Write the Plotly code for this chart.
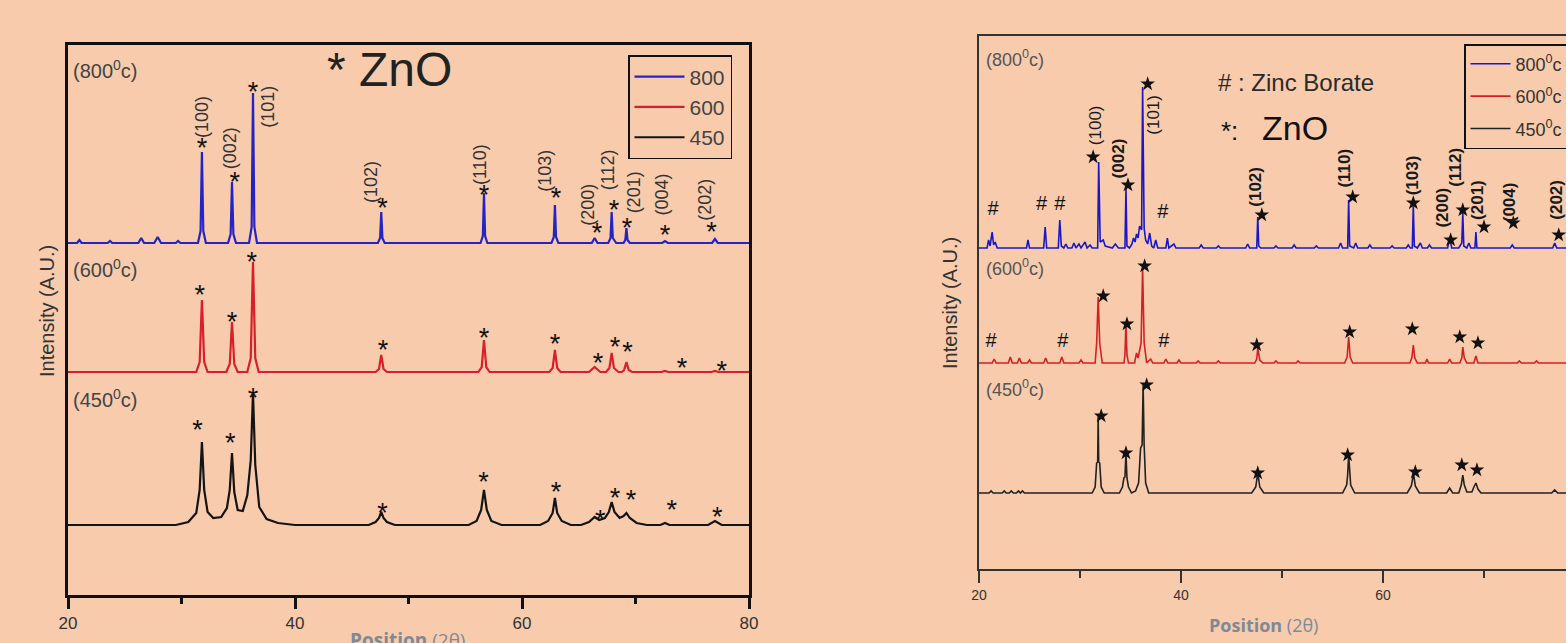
import plotly.graph_objects as go

# ---------------- DATA ----------------
# x axis: 2-theta (degrees); y: intensity (A.U., above each pattern's baseline)
tick_vals = [20, 40, 60, 80]
minor_vals = [30, 50, 70]
series_names_left = ["800", "600", "450"]
series_names_right = ["800<sup>0</sup>c", "600<sup>0</sup>c", "450<sup>0</sup>c"]
temp_labels = ["(800<sup>0</sup>c)", "(600<sup>0</sup>c)", "(450<sup>0</sup>c)"]
hkl = ["(100)", "(002)", "(101)", "(102)", "(110)", "(103)", "(200)", "(112)", "(201)", "(004)", "(202)"]

# stacking offsets of the three patterns
left_offsets = [352, 223, 70]
right_offsets = [321, 206, 76]

# ---- left panel patterns (2theta, intensity) ----
L800 = [(20, 0), (20.8, 0), (21.0, 3), (21.2, 0), (23.5, 0), (23.7, 2), (23.9, 0), (26.2, 0), (26.45, 5), (26.7, 0),
        (27.6, 0), (27.9, 6), (28.2, 0), (29.5, 0), (29.7, 2), (29.9, 0), (31.45, 0), (31.68, 12), (31.8, 91),
        (31.92, 12), (32.15, 0), (34.1, 0), (34.33, 9), (34.45, 61), (34.57, 9), (34.8, 0), (35.95, 0), (36.18, 16),
        (36.3, 150), (36.42, 16), (36.65, 0), (47.3, 0), (47.5, 5), (47.6, 31), (47.7, 5), (47.9, 0), (56.35, 0),
        (56.55, 7), (56.65, 50), (56.75, 7), (56.95, 0), (62.6, 0), (62.8, 6), (62.9, 38), (63.0, 6), (63.2, 0),
        (66.15, 0), (66.4, 5), (66.65, 0), (67.6, 0), (67.8, 5), (67.9, 31), (68.0, 5), (68.3, 0), (68.95, 0),
        (69.1, 3), (69.2, 15), (69.3, 3), (69.5, 0), (72.35, 0), (72.6, 2), (72.85, 0), (76.75, 0), (77.0, 4),
        (77.25, 0), (80, 0)]
L600 = [(20, 0), (31.3, 0), (31.6, 10), (31.8, 72), (32.0, 10), (32.3, 0), (33.95, 0), (34.25, 8), (34.45, 50),
        (34.65, 8), (34.95, 0), (35.8, 0), (36.1, 14), (36.3, 110), (36.5, 14), (36.8, 0), (47.1, 0), (47.4, 3),
        (47.6, 17), (47.8, 3), (48.1, 0), (56.15, 0), (56.45, 5), (56.65, 32), (56.85, 5), (57.15, 0), (62.4, 0),
        (62.7, 4), (62.9, 22), (63.1, 4), (63.4, 0), (65.9, 0), (66.4, 5), (66.9, 0), (67.4, 0), (67.7, 4), (67.9, 19),
        (68.1, 4), (68.5, 0), (68.8, 0), (69.0, 2), (69.2, 10), (69.4, 2), (69.7, 0), (72.3, 0), (72.6, 1), (72.9, 0),
        (76.7, 0), (77.0, 1), (77.3, 0), (80, 0)]
L450 = [(20, 0), (29.5, 0), (30.6, 3), (31.3, 12), (31.6, 35), (31.8, 83), (32.0, 35), (32.3, 13), (32.8, 7),
        (33.5, 8), (34.0, 17), (34.25, 35), (34.45, 72), (34.65, 33), (34.95, 15), (35.4, 14), (35.8, 30), (36.1, 65),
        (36.3, 132), (36.5, 60), (36.85, 18), (37.5, 6), (38.5, 2), (40, 0), (46.5, 0), (47.1, 3), (47.4, 7),
        (47.6, 13), (47.8, 7), (48.1, 3), (48.8, 0), (55.3, 0), (56.0, 4), (56.4, 15), (56.65, 35), (56.9, 15),
        (57.3, 4), (58.2, 0), (61.6, 0), (62.3, 4), (62.7, 12), (62.9, 27), (63.1, 12), (63.5, 4), (64.3, 0),
        (65.2, 0), (65.9, 3), (66.4, 8), (66.8, 5), (67.3, 7), (67.65, 13), (67.9, 23), (68.15, 13), (68.6, 7),
        (68.95, 9), (69.2, 12), (69.5, 7), (70.1, 2), (71, 0), (72.2, 0), (72.6, 2), (73.0, 0), (76.4, 0), (77.0, 4),
        (77.6, 0), (80, 0)]

# ---- right panel patterns (2theta, intensity) ----
R800 = [(20, 0), (20.8, 0), (20.95, 8), (21.1, 2), (21.3, 16), (21.45, 3), (21.6, 6), (21.8, 0), (24.7, 0),
        (24.85, 8), (25.0, 0), (26.4, 0), (26.55, 21), (26.7, 0), (27.85, 0), (28.0, 28), (28.15, 2), (28.4, 0),
        (28.6, 4), (28.8, 0), (29.2, 0), (29.4, 5), (29.6, 0), (29.9, 4), (30.1, 0), (30.5, 6), (30.7, 0), (31.0, 3),
        (31.2, 0), (31.75, 0), (31.85, 86), (32.0, 6), (32.3, 8), (32.5, 2), (33.2, 0), (33.5, 4), (33.8, 0),
        (34.45, 0), (34.55, 60), (34.65, 2), (34.9, 0), (35.15, 4), (35.3, 10), (35.45, 6), (35.6, 14), (35.75, 10),
        (35.9, 22), (36.1, 18), (36.2, 161), (36.35, 20), (36.5, 8), (36.7, 4), (36.9, 15), (37.1, 2), (37.3, 0),
        (37.5, 8), (37.7, 0), (38.5, 0), (38.65, 10), (38.8, 0), (39.3, 4), (39.5, 0), (41.8, 0), (42.0, 3), (42.2, 0),
        (43.5, 0), (43.7, 2), (43.9, 0), (46.4, 0), (46.6, 4), (46.8, 0), (47.5, 0), (47.6, 31), (47.7, 2), (47.9, 0),
        (49.2, 0), (49.4, 2), (49.6, 0), (51.0, 0), (51.2, 3), (51.4, 0), (53.2, 0), (53.4, 2), (53.6, 0), (55.6, 0),
        (55.8, 5), (56.0, 0), (56.5, 0), (56.6, 48), (56.7, 2), (57.1, 0), (57.3, 5), (57.5, 0), (58.5, 0), (58.7, 3),
        (58.9, 0), (60.7, 0), (60.9, 2), (61.1, 0), (62.3, 0), (62.5, 3), (62.7, 0), (62.9, 0), (63.0, 43), (63.1, 2),
        (63.4, 0), (63.7, 5), (63.9, 0), (64.4, 0), (64.6, 3), (64.8, 0), (66.4, 0), (66.6, 11), (66.8, 0), (67.5, 0),
        (67.8, 5), (67.9, 35), (68.0, 2), (68.3, 0), (68.5, 5), (68.7, 0), (69.1, 0), (69.2, 16), (69.3, 0),
        (72.6, 0), (72.8, 3), (73.0, 0), (76.8, 0), (77.0, 5), (77.2, 0), (80, 0)]
R600 = [(20, 0), (21.3, 0), (21.5, 4), (21.7, 0), (22.9, 0), (23.1, 6), (23.3, 0), (23.8, 0), (24.0, 5), (24.2, 0),
        (24.8, 0), (25.0, 3), (25.2, 0), (26.4, 0), (26.6, 5), (26.8, 0), (28.0, 0), (28.2, 6), (28.4, 0), (29.9, 0),
        (30.1, 3), (30.3, 0), (31.5, 0), (31.65, 20), (31.8, 66), (31.95, 20), (32.2, 0), (34.35, 0), (34.45, 8),
        (34.55, 40), (34.65, 8), (34.8, 0), (35.4, 0), (35.6, 10), (35.75, 5), (35.9, 15), (36.05, 20), (36.2, 95),
        (36.35, 20), (36.6, 0), (37.0, 4), (37.2, 0), (38.3, 0), (38.5, 4), (38.7, 0), (39.6, 0), (39.8, 3), (40.0, 0),
        (41.5, 0), (41.7, 2), (41.9, 0), (43.5, 0), (43.7, 2), (43.9, 0), (47.3, 0), (47.5, 4), (47.6, 15), (47.8, 3),
        (48.1, 0), (49.2, 0), (49.4, 2), (49.6, 0), (51.4, 0), (51.6, 2), (51.8, 0), (56.2, 0), (56.45, 6),
        (56.6, 26), (56.75, 6), (57.0, 0), (62.65, 0), (62.85, 5), (63.0, 18), (63.15, 5), (63.4, 0), (64.2, 0),
        (64.35, 4), (64.5, 0), (66.4, 0), (66.6, 4), (66.8, 0), (67.6, 0), (67.8, 5), (67.9, 16), (68.05, 5),
        (68.3, 0), (69.0, 0), (69.2, 7), (69.4, 0), (73.3, 0), (73.5, 2), (73.7, 0), (75.0, 0), (75.2, 2), (75.4, 0),
        (80, 0)]
R450 = [(20, 0), (21.0, 0), (21.2, 2), (21.4, 0), (22.3, 0), (22.5, 2), (22.7, 0), (23.0, 0), (23.2, 2), (23.4, 0),
        (23.7, 0), (23.9, 2), (24.1, 0), (24.3, 2), (24.5, 0), (31.2, 0), (31.5, 6), (31.65, 30), (31.75, 31),
        (31.8, 78), (31.85, 31), (31.95, 30), (32.1, 6), (32.4, 0), (33.9, 0), (34.2, 6), (34.35, 15), (34.45, 16),
        (34.55, 40), (34.65, 15), (34.8, 6), (35.1, 0), (35.5, 2), (35.8, 10), (36.0, 45), (36.15, 48), (36.25, 108),
        (36.35, 48), (36.5, 10), (36.8, 0), (47.0, 0), (47.4, 6), (47.6, 20), (47.8, 6), (48.2, 0), (56.0, 0),
        (56.4, 8), (56.5, 18), (56.6, 38), (56.7, 18), (56.8, 8), (57.2, 0), (62.4, 0), (62.8, 7), (62.9, 12),
        (63.0, 21), (63.1, 12), (63.2, 7), (63.6, 0), (66.3, 0), (66.6, 5), (66.9, 0), (67.5, 0), (67.75, 8),
        (67.9, 18), (68.05, 8), (68.3, 1), (68.8, 1), (69.0, 6), (69.2, 10), (69.4, 4), (69.7, 0), (76.7, 0),
        (77.0, 3), (77.3, 0), (80, 0)]

# ---- peak markers (2theta, absolute plotted y) ----
L800_stars = [(31.8, 452), (34.7, 418), (36.3, 508), (47.7, 392), (56.65, 405), (63.0, 402), (66.6, 367),
              (68.1, 390), (69.25, 372), (72.6, 365), (76.7, 368)]
L600_stars = [(31.6, 305), (34.45, 278), (36.2, 338), (47.75, 250), (56.65, 262), (62.9, 256), (66.7, 237),
              (68.2, 253), (69.3, 248), (74.1, 232), (77.6, 229)]
L450_stars = [(31.4, 170), (34.3, 157), (36.3, 202), (47.7, 87), (56.6, 118), (63.0, 108), (66.9, 80),
              (68.2, 102), (69.6, 100), (73.2, 90), (77.2, 83)]
R800_stars = [(31.3, 412), (34.75, 384), (36.7, 485), (48.0, 354), (57.0, 372), (63.0, 366), (66.7, 329),
              (67.9, 359), (70.0, 342), (72.9, 346), (77.4, 334)]
R600_stars = [(32.3, 273), (34.65, 245), (36.4, 303), (47.5, 224), (56.7, 237), (62.9, 240), (67.6, 232),
              (69.4, 226)]
R450_stars = [(32.1, 153), (34.55, 116), (36.6, 184), (47.6, 96), (56.5, 114), (63.2, 97), (67.8, 104),
              (69.3, 99)]
R_hash = [(21.4, 359), (26.2, 364), (28.0, 364), (38.2, 356), (21.2, 227), (28.3, 227), (38.3, 227)]

# ---- hkl label anchor points (2theta, y) ----
L_label_pos = [(31.8, 478), (34.3, 447), (37.6, 488), (46.7, 413), (56.3, 430), (62.0, 424), (65.8, 390),
               (67.6, 425), (69.9, 403), (72.3, 400), (76.1, 395)]
R_label_pos = [(31.5, 444), (33.8, 411), (37.2, 454), (47.3, 382), (56.1, 401), (62.9, 394), (65.8, 361),
               (67.1, 402), (69.3, 369), (72.5, 367), (77.1, 369)]
R_label_bold = [False, True, False, True, True, True, True, True, True, True, True]
L_temp_pos = [(20.25, 525), (20.25, 327), (20.25, 197)]
R_temp_pos = [(20.5, 511), (20.5, 302), (20.5, 181)]

# ---------------- FIGURE ----------------
W, H = 1566, 643
BG = "#F8CBAD"
left_colors = ["#2424C4", "#D8202A", "#141414"]
right_colors = ["#1818C8", "#D42020", "#222222"]
ASTERISK_DY = -7  # the '*' glyph sits high in its text box; centre it on the read point


def px(x):
    return x / W


def py(y):
    return (H - y) / H


fig = go.Figure()

for name, pts, off, col in zip(series_names_left, [L800, L600, L450], left_offsets, left_colors):
    fig.add_trace(go.Scatter(
        x=[p[0] for p in pts], y=[p[1] + off for p in pts], mode="lines", name=name,
        line=dict(color=col, width=2.2), xaxis="x", yaxis="y", legend="legend"))

for i, (name, pts, off, col) in enumerate(zip(series_names_right, [R800, R600, R450], right_offsets, right_colors)):
    fig.add_trace(go.Scatter(
        x=[p[0] for p in pts], y=[p[1] + off for p in pts], mode="lines", name=name,
        line=dict(color=col, width=1.6), xaxis="x2", yaxis="y2", legend="legend2", legendgroup="r%d" % i))

# left asterisks
for stars in [L800_stars, L600_stars, L450_stars]:
    fig.add_trace(go.Scatter(
        x=[s[0] for s in stars], y=[s[1] + ASTERISK_DY for s in stars], mode="text", text=["*"] * len(stars),
        textposition="middle center",
        textfont=dict(size=27, color="#111111", family="Liberation Sans"),
        showlegend=False, xaxis="x", yaxis="y", hoverinfo="skip"))

# right stars
for stars in [R800_stars, R600_stars, R450_stars]:
    fig.add_trace(go.Scatter(
        x=[s[0] for s in stars], y=[s[1] for s in stars], mode="markers",
        marker=dict(symbol="star", size=11, color="#111111", line=dict(width=0)),
        showlegend=False, xaxis="x2", yaxis="y2", hoverinfo="skip"))

# right hash marks
fig.add_trace(go.Scatter(
    x=[h[0] for h in R_hash], y=[h[1] for h in R_hash], mode="text", text=["#"] * len(R_hash),
    textposition="middle center", textfont=dict(size=20, color="#111111", family="Liberation Sans"),
    showlegend=False, xaxis="x2", yaxis="y2", hoverinfo="skip"))

ann = []
for lab, (x, y) in zip(hkl, L_label_pos):
    ann.append(dict(x=x, y=y, xref="x", yref="y", text=lab, textangle=-90, showarrow=False,
                    xanchor="center", yanchor="middle",
                    font=dict(size=18, color="#333333", family="Liberation Sans")))
for lab, (x, y), b in zip(hkl, R_label_pos, R_label_bold):
    ann.append(dict(x=x, y=y, xref="x2", yref="y2", text=("<b>%s</b>" % lab) if b else lab, textangle=-90,
                    showarrow=False, xanchor="center", yanchor="middle",
                    font=dict(size=17, color="#1a1a1a", family="Liberation Sans")))
for lab, (x, y) in zip(temp_labels, L_temp_pos):
    ann.append(dict(x=x, y=y, xref="x", yref="y", text=lab, xanchor="left", yanchor="middle", showarrow=False,
                    font=dict(size=20, color="#444444", family="Liberation Sans")))
for lab, (x, y) in zip(temp_labels, R_temp_pos):
    ann.append(dict(x=x, y=y, xref="x2", yref="y2", text=lab, xanchor="left", yanchor="middle", showarrow=False,
                    font=dict(size=18, color="#555555", family="Liberation Sans")))

# titles / axis titles
ann += [
    dict(x=px(325), y=py(70), xref="paper", yref="paper", xanchor="left", yanchor="middle", text="* ZnO",
         showarrow=False, font=dict(size=48, color="#222222", family="Liberation Sans")),
    dict(x=px(1216), y=py(83), xref="paper", yref="paper", xanchor="left", yanchor="middle",
         text="# : Zinc Borate", showarrow=False, font=dict(size=24, color="#2a2a2a", family="Liberation Sans")),
    dict(x=px(1219), y=py(131), xref="paper", yref="paper", xanchor="left", yanchor="middle", text="*:",
         showarrow=False, font=dict(size=26, color="#111111", family="Liberation Sans")),
    dict(x=px(1260), y=py(128), xref="paper", yref="paper", xanchor="left", yanchor="middle", text="ZnO",
         showarrow=False, font=dict(size=34, color="#111111", family="Liberation Sans")),
    dict(x=px(47), y=py(311), xref="paper", yref="paper", xanchor="center", yanchor="middle",
         text="Intensity (A.U.)", textangle=-90,
         showarrow=False, font=dict(size=20, color="#333333", family="Liberation Sans")),
    dict(x=px(950), y=py(303), xref="paper", yref="paper", xanchor="center", yanchor="middle",
         text="Intensity (A.U.)", textangle=-90,
         showarrow=False, font=dict(size=20, color="#333333", family="Liberation Sans")),
    dict(x=px(408), y=py(640), xref="paper", yref="paper", xanchor="center", yanchor="middle",
         text="<b>Position</b> (2θ)", showarrow=False, font=dict(size=19, color="#7D8A96", family="Open Sans")),
    dict(x=px(1263), y=py(625), xref="paper", yref="paper", xanchor="center", yanchor="middle",
         text="<b>Position</b> (2θ)", showarrow=False, font=dict(size=18, color="#7D8A96", family="Open Sans")),
]

fig.update_layout(
    width=W, height=H, paper_bgcolor=BG, plot_bgcolor=BG,
    margin=dict(l=0, r=0, t=0, b=0, autoexpand=False),
    annotations=ann,
    xaxis=dict(domain=[px(68), px(749)], range=[20, 80], tickvals=tick_vals, ticks="outside", ticklen=11,
               tickwidth=3, tickcolor="#111111", showline=True, linewidth=3, linecolor="#111111", mirror=True,
               showgrid=False, zeroline=False, tickfont=dict(size=17, color="#333333", family="Liberation Sans"),
               minor=dict(tickmode="array", tickvals=minor_vals, ticks="outside", ticklen=6, tickwidth=3,
                          tickcolor="#111111", showgrid=False)),
    yaxis=dict(domain=[py(595), py(45)], range=[0, 550], showticklabels=False, ticks="", showline=True,
               linewidth=3, linecolor="#111111", mirror=True, showgrid=False, zeroline=False),
    xaxis2=dict(domain=[px(979), 1.0], range=[20, 20 + 587 / 10.1], tickvals=tick_vals, ticks="outside",
                ticklen=12, tickwidth=1.5, tickcolor="#333333", showline=True, linewidth=1.5, linecolor="#333333",
                mirror=True, showgrid=False, zeroline=False, anchor="y2",
                tickfont=dict(size=14, color="#333333", family="Liberation Sans"),
                minor=dict(tickmode="array", tickvals=minor_vals, ticks="outside", ticklen=7, tickwidth=1.5,
                           tickcolor="#333333", showgrid=False)),
    yaxis2=dict(domain=[py(569), py(36)], range=[0, 533], showticklabels=False, ticks="", showline=True,
                linewidth=1.5, linecolor="#333333", mirror=False, showgrid=False, zeroline=False, anchor="x2"),
    legend=dict(x=px(628), y=py(55), xanchor="left", yanchor="top", bgcolor="rgba(0,0,0,0)",
                bordercolor="#111111", borderwidth=1.5, font=dict(size=21, color="#444444", family="Liberation Sans"),
                tracegroupgap=0, itemwidth=50),
    legend2=dict(x=px(1464), y=py(44), xanchor="left", yanchor="top", bgcolor="rgba(0,0,0,0)",
                 bordercolor="#111111", borderwidth=1.5, traceorder="grouped",
                 font=dict(size=18, color="#333333", family="Liberation Sans"), tracegroupgap=6, itemwidth=40),
    showlegend=True,
)

fig.write_html("out.html", config={"displayModeBar": False},
               post_script="document.body.style.margin='0';document.body.style.background='%s';" % BG)
